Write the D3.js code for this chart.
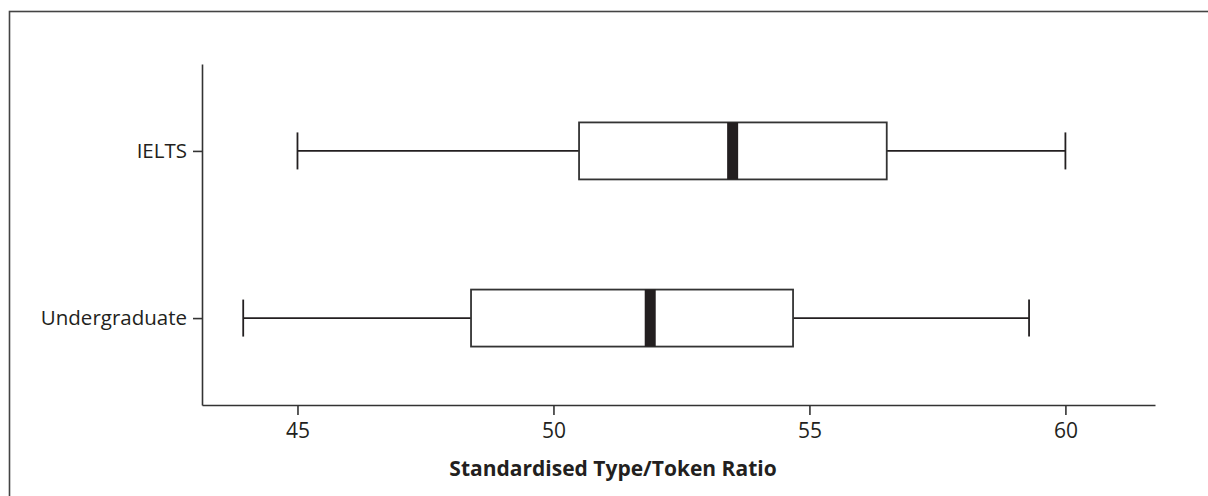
<!DOCTYPE html>
<html>
<head>
<meta charset="utf-8">
<script src="https://cdn.jsdelivr.net/npm/d3@7"></script>
<style>
  body { margin: 0; background: #fff; }
  svg { display: block; font-family: "Open Sans", "Noto Sans", sans-serif; }
  .axis path, .axis line { stroke: #333; stroke-width: 1.6; }
  .axis text { fill: #231f20; }
</style>
</head>
<body>
<div id="chart"></div>
<script>
// groups, top to bottom
const groups = ["IELTS", "Undergraduate"];
const whiskerLow = [45.0, 43.94];
const q1 = [50.5, 48.39];
const median = [53.5, 51.89];
const q3 = [56.51, 54.68];
const whiskerHigh = [60.0, 59.29];
const xTicks = [45, 50, 55, 60];
const xTitle = "Standardised Type/Token Ratio";

const width = 1208, height = 496;
const margin = {top: 64, right: 53, bottom: 91, left: 202};
const plotW = width - margin.left - margin.right;
const plotH = height - margin.top - margin.bottom;
const fontFam = '"Open Sans", "Noto Sans", sans-serif';

const svg = d3.select("#chart").append("svg")
    .attr("width", width)
    .attr("height", height);

// outer frame (runs off the right and bottom edge)
svg.append("rect")
    .attr("x", 9.5).attr("y", 11.5)
    .attr("width", width + 20).attr("height", height + 20)
    .attr("fill", "none")
    .attr("stroke", "#444")
    .attr("stroke-width", 1.6);

const g = svg.append("g")
    .attr("transform", `translate(${margin.left},${margin.top})`);

const x = d3.scaleLinear()
    .domain([43.135, 61.75])
    .range([0, plotW]);

const y = d3.scalePoint()
    .domain(groups)
    .range([0, plotH])
    .padding(0.52);

const xAxis = d3.axisBottom(x).tickValues(xTicks).tickSize(10).tickSizeOuter(0).tickPadding(8);
const yAxis = d3.axisLeft(y).tickSize(9).tickSizeOuter(0).tickPadding(6);

g.append("g")
    .attr("class", "axis x-axis")
    .attr("transform", `translate(0,${plotH})`)
    .call(xAxis)
    .attr("font-family", fontFam)
    .attr("font-size", 21);

g.append("g")
    .attr("class", "axis y-axis")
    .call(yAxis)
    .attr("font-family", fontFam)
    .attr("font-size", 20.5);

g.append("text")
    .attr("x", 613 - margin.left)
    .attr("y", plotH + 71)
    .attr("text-anchor", "middle")
    .style("font-size", "21px")
    .style("font-weight", "bold")
    .style("fill", "#231f20")
    .text(xTitle);

const boxH = 57, capH = 37, medW = 11;
const rows = groups.map((k, i) => ({
    key: k, lo: whiskerLow[i], q1: q1[i], med: median[i], q3: q3[i], hi: whiskerHigh[i]
}));

const box = g.selectAll(".box")
    .data(rows)
    .enter().append("g")
    .attr("class", "box")
    .attr("transform", d => `translate(0,${y(d.key)})`);

// whisker lines
box.append("line")
    .attr("x1", d => x(d.lo)).attr("x2", d => x(d.q1))
    .attr("stroke", "#231f20").attr("stroke-width", 1.8);
box.append("line")
    .attr("x1", d => x(d.q3)).attr("x2", d => x(d.hi))
    .attr("stroke", "#231f20").attr("stroke-width", 1.8);

// caps
box.append("line")
    .attr("x1", d => x(d.lo)).attr("x2", d => x(d.lo))
    .attr("y1", -capH / 2).attr("y2", capH / 2)
    .attr("stroke", "#231f20").attr("stroke-width", 1.8);
box.append("line")
    .attr("x1", d => x(d.hi)).attr("x2", d => x(d.hi))
    .attr("y1", -capH / 2).attr("y2", capH / 2)
    .attr("stroke", "#231f20").attr("stroke-width", 1.8);

// box
box.append("rect")
    .attr("x", d => x(d.q1))
    .attr("y", -boxH / 2)
    .attr("width", d => x(d.q3) - x(d.q1))
    .attr("height", boxH)
    .attr("fill", "#fff")
    .attr("stroke", "#333")
    .attr("stroke-width", 1.8);

// median bar
box.append("rect")
    .attr("x", d => x(d.med) - medW / 2)
    .attr("y", -boxH / 2)
    .attr("width", medW)
    .attr("height", boxH)
    .attr("fill", "#231f20");
</script>
</body>
</html>
